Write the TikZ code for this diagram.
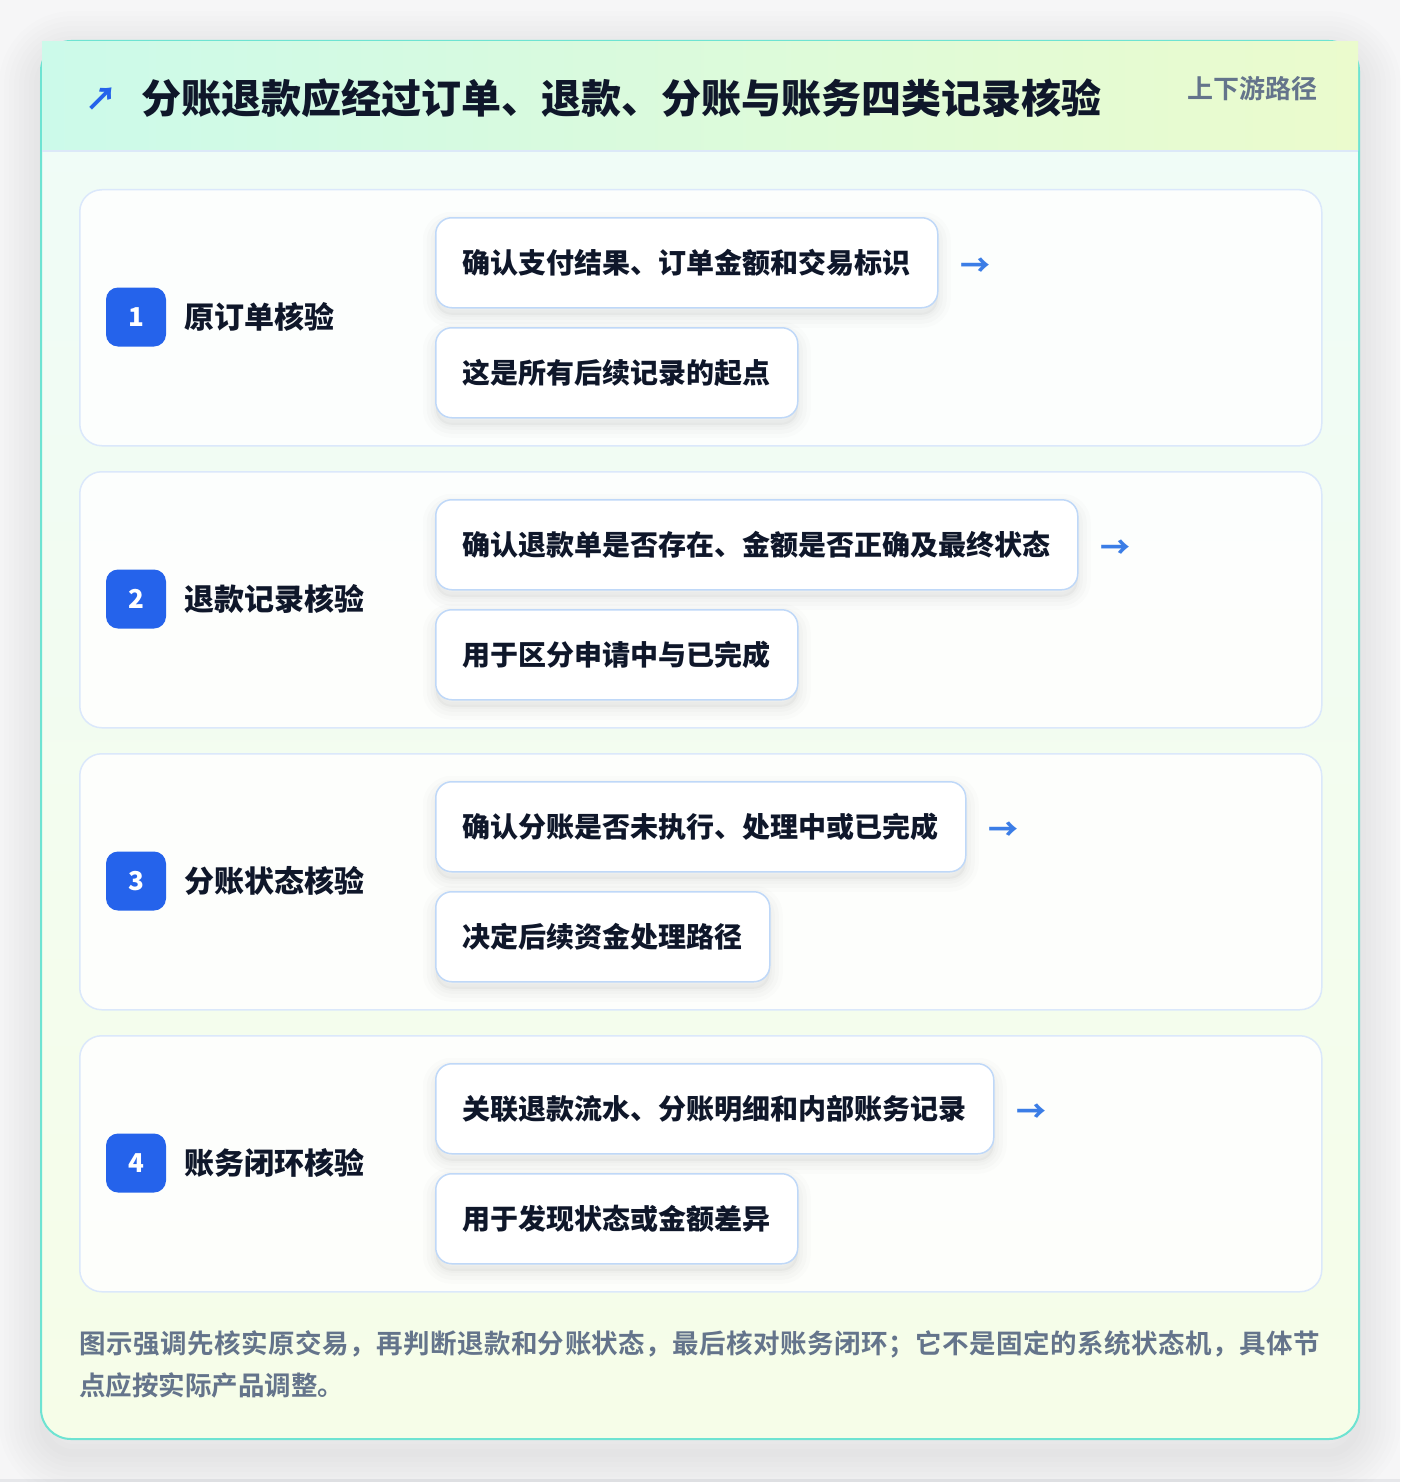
\documentclass[tikz,border=0pt]{standalone}
\usepackage{fontspec}
\setmainfont{Noto Sans CJK SC}[BoldFont={* Bold}]
\newfontfamily\heavyfont{Noto Sans CJK SC Black}
\definecolor{pagebg}{HTML}{F6F6F7}
\definecolor{pageline}{HTML}{E6E7EA}
\definecolor{frameteal}{HTML}{6EE3D2}
\definecolor{hdrL}{HTML}{CCFAEA}
\definecolor{hdrR}{HTML}{EBFBCD}
\definecolor{bodyT}{HTML}{EFFCF8}
\definecolor{bodyB}{HTML}{F6FDE8}
\definecolor{hdrline}{HTML}{DCE8F8}
\definecolor{cardline}{HTML}{DBE8FB}
\definecolor{chipline}{HTML}{BFD8F8}
\definecolor{ink}{HTML}{0F172A}
\definecolor{muted}{HTML}{64748B}
\definecolor{badgeblue}{HTML}{2563EB}
\definecolor{arrowblue}{HTML}{3B7DE6}
\makeatletter
\newcommand\spreadchars[1]{\@tfor\sc@c:=#1\do{\sc@c\hfil}\unskip}
\makeatother
\tikzset{
  cjk/.style={font=\bfseries\fontsize{#1}{#1}\selectfont, text height={0.88*#1pt}, text depth={0.12*#1pt}, inner sep=0pt},
  cjkheavy/.style={font=\heavyfont\fontsize{#1}{#1}\selectfont, text height={0.88*#1pt}, text depth={0.12*#1pt}, inner sep=0pt},
  card/.style={draw=cardline, line width=1.5pt, fill=white, fill opacity=0.85, text opacity=1,
    rounded corners=22pt, minimum width=1242pt, minimum height=256pt, inner sep=0pt, anchor=north west},
  badge/.style={fill=badgeblue, rounded corners=12pt, minimum width=60pt, minimum height=59pt,
    inner sep=0pt, text=white, font=\heavyfont\fontsize{26}{26}\selectfont},
  stage/.style={cjkheavy=30, text=ink, anchor=west},
  softshadow/.style={preaction={draw=black, draw opacity=0.012, line width=#1*2.6pt, transform canvas={yshift=-7pt}},
    preaction={draw=black, draw opacity=0.014, line width=#1*1.8pt, transform canvas={yshift=-7pt}},
    preaction={draw=black, draw opacity=0.016, line width=#1*1.0pt, transform canvas={yshift=-7pt}},
    preaction={draw=black, draw opacity=0.016, line width=#1*0.4pt, fill=black, fill opacity=0.03, transform canvas={yshift=-7pt}}},
  chip/.style={cjkheavy=28, draw=chipline, line width=1.5pt, fill=white, rounded corners=16pt,
    text=ink, inner xsep=27pt, minimum height=90pt, anchor=north west, softshadow=10},
  arrowglyph/.style={inner sep=0pt, text=arrowblue, font=\heavyfont\fontsize{30}{30}\selectfont, anchor=west},
  frameshadow/.style={draw=black, draw opacity=0.006, line width=#1, rounded corners=30pt},
}
\begin{document}
\begin{tikzpicture}[x=1pt,y=-1pt]
\useasboundingbox (0,0) rectangle (1400,1482);
\fill[pagebg] (0,0) rectangle (1400,1482);
\fill[pageline] (0,1479) rectangle (1400,1482);
% outer frame soft shadow
\foreach \w in {88,78,68,58,48,38,28,18,8}
  \path[frameshadow=\w pt] (43,55) rectangle (1357,1453);
\fill[white, rounded corners=30pt] (41,41) rectangle (1359,1439);
\shade[rounded corners=30pt, top color=bodyT, bottom color=bodyB] (41,41) rectangle (1359,1439);
\draw[rounded corners=30pt, draw=frameteal, line width=2pt] (41,41) rectangle (1359,1439);
% header band
\shade[left color=hdrL, right color=hdrR] (42,42) rectangle (1358,151);
\draw[hdrline, line width=1.5pt] (42,151) -- (1358,151);
\node[inner sep=0pt, text=badgeblue, font=\heavyfont\fontsize{32}{32}\selectfont, anchor=center] (icon) at (101,99) {↗};
\node[cjkheavy=40, text=ink, anchor=west] (title) at (141,98)
  {分账退款应经过订单、退款、分账与账务四类记录核验};
\node[cjk=26, text=muted, anchor=east] (tag) at (1318,89) {上下游路径};
% cards
\foreach \i/\y/\lab/\ta/\tb in {
  1/189/原订单核验/确认支付结果、订单金额和交易标识/这是所有后续记录的起点,
  2/471/退款记录核验/确认退款单是否存在、金额是否正确及最终状态/用于区分申请中与已完成,
  3/753/分账状态核验/确认分账是否未执行、处理中或已完成/决定后续资金处理路径,
  4/1035/账务闭环核验/关联退款流水、分账明细和内部账务记录/用于发现状态或金额差异}{
  \node[card] (card\i) at (79,\y) {};
  \node[badge] (badge\i) at (136,\y+128) {\i};
  \node[stage] (stage\i) at (184,\y+128) {\lab};
  \node[chip] (chipa\i) at (435,\y+28) {\ta};
  \node[chip] (chipb\i) at (435,\y+138) {\tb};
  \node[arrowglyph] (arr\i) at ([xshift=22pt,yshift=-4pt]chipa\i.east) {→};
}
% footnote
\node[cjk=26.5, text=muted, anchor=west] (note1) at (79,1343)
  {\makebox[1241pt][s]{\spreadchars{图示强调先核实原交易，再判断退款和分账状态，最后核对账务闭环；它不是固定的系统状态机，具体节}}};
\node[cjk=26.5, text=muted, anchor=west] (note2) at (79,1385)
  {点应按实际产品调整。};
\end{tikzpicture}
\end{document}
